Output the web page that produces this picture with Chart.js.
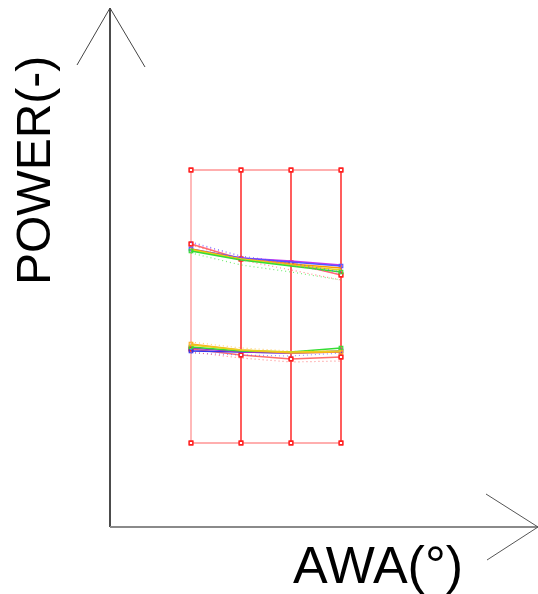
<!DOCTYPE html>
<html>
<head>
<meta charset="utf-8">
<title>POWER vs AWA</title>
<script src="https://cdn.jsdelivr.net/npm/chart.js@4/dist/chart.umd.min.js"></script>
<style>
  html, body { margin: 0; padding: 0; background: #fff; }
  #wrap { width: 538px; height: 594px; }
</style>
</head>
<body>
<div id="wrap"><canvas id="c" width="538" height="594"></canvas></div>
<script>
// Apparent wind angle stations (deg)
const awa = [30, 40, 50, 60];

// Reference mesh (red wireframe)
const meshTop    = [3.57, 3.57, 3.57, 3.57];
const meshUpper  = [2.83, 2.68, 2.64, 2.52];
const meshLower  = [1.78, 1.72, 1.68, 1.70];
const meshBottom = [0.84, 0.84, 0.84, 0.84];

// Upper power family
const upGreen   = [2.76, 2.67, 2.61, 2.55];
const upOrange  = [2.78, 2.68, 2.63, 2.59];
const upYellow  = [2.77, 2.68, 2.62, 2.57];
const upPurple  = [2.77, 2.69, 2.66, 2.62];
const upBlue    = [2.78, 2.69, 2.65, 2.61];
const upBlueDot = [2.85, 2.71, 2.64, 2.55];
const upMagDot  = [2.84, 2.70, 2.62, 2.53];
const upRedDot  = [2.82, 2.67, 2.57, 2.47];
const upGreenDot= [2.74, 2.62, 2.55, 2.47];

// Lower power family
const loOrange  = [1.83, 1.77, 1.74, 1.75];
const loYellow  = [1.82, 1.77, 1.75, 1.76];
const loGreen   = [1.80, 1.76, 1.75, 1.79];
const loBlue    = [1.76, 1.75, 1.74, 1.76];
const loPurple  = [1.79, 1.75, 1.74, 1.75];
const loRedDot  = [1.75, 1.69, 1.65, 1.66];
const loOrangeDot = [1.85, 1.79, 1.76, 1.76];
const loBlueDot = [1.74, 1.72, 1.71, 1.74];

const pts = ys => awa.map((x, i) => ({ x, y: ys[i] }));
const column = i => [meshTop, meshUpper, meshLower, meshBottom].map(r => ({ x: awa[i], y: r[i] }));

function solid(ys, color, ends) {
  return {
    data: pts(ys), borderColor: color, borderWidth: 1.5,
    pointStyle: 'rect', pointRadius: ends ? [2.5, 0, 0, 2.5] : 0,
    pointBorderColor: color, pointBackgroundColor: 'rgba(255,255,255,0)', pointBorderWidth: 1.2
  };
}
function dotted(ys, color) {
  return { data: pts(ys), borderColor: color, borderWidth: 1.2, borderDash: [1, 3], pointRadius: 0 };
}
function mesh(data, color, width) {
  return {
    data, borderColor: color, borderWidth: width,
    pointStyle: 'rect', pointRadius: 2.5, pointBorderColor: '#ff2020',
    pointBackgroundColor: '#fff', pointBorderWidth: 1.3
  };
}

const datasets = [
  dotted(upBlueDot, 'rgba(80,80,255,0.7)'),
  dotted(upMagDot, 'rgba(230,60,230,0.6)'),
  dotted(upRedDot, 'rgba(255,90,90,0.7)'),
  dotted(upGreenDot, 'rgba(60,230,60,0.7)'),
  dotted(loRedDot, 'rgba(255,90,90,0.7)'),
  dotted(loOrangeDot, 'rgba(255,190,60,0.7)'),
  dotted(loBlueDot, 'rgba(80,80,255,0.6)'),
  solid(upGreen, '#33dd33', true),
  solid(upYellow, '#e6d21e', false),
  solid(upOrange, '#ff9900', false),
  solid(upBlue, '#5555ff', true),
  solid(upPurple, '#cc33ee', false),
  solid(loYellow, '#e6d21e', false),
  solid(loOrange, '#ffaa22', true),
  solid(loGreen, '#33dd33', true),
  solid(loPurple, '#9933cc', false),
  solid(loBlue, '#3333ee', true),
  mesh(pts(meshTop), 'rgba(255,60,60,0.55)', 1.3),
  mesh(pts(meshBottom), 'rgba(255,60,60,0.55)', 1.3),
  mesh(pts(meshUpper), 'rgba(255,30,30,0.65)', 1.5),
  mesh(pts(meshLower), 'rgba(255,30,30,0.65)', 1.5),
  mesh(column(0), 'rgba(255,60,60,0.55)', 1.3),
  mesh(column(1), '#ff1a1a', 1.4),
  mesh(column(2), '#ff1a1a', 1.4),
  mesh(column(3), '#ff1a1a', 1.4)
];

// Arrow axes and axis titles
const arrowAxes = {
  id: 'arrowAxes',
  afterDraw(chart) {
    const { ctx, chartArea: a } = chart;
    ctx.save();
    // y axis
    ctx.strokeStyle = '#111';
    ctx.lineWidth = 1.5;
    ctx.beginPath(); ctx.moveTo(a.left, a.bottom); ctx.lineTo(a.left, a.top); ctx.stroke();
    ctx.strokeStyle = '#444'; ctx.lineWidth = 1;
    ctx.beginPath();
    ctx.moveTo(a.left - 33, a.top + 57); ctx.lineTo(a.left, a.top); ctx.lineTo(a.left + 35, a.top + 59);
    ctx.stroke();
    // x axis
    ctx.strokeStyle = '#8a8a8a'; ctx.lineWidth = 2.2;
    ctx.beginPath(); ctx.moveTo(a.left, a.bottom); ctx.lineTo(a.right, a.bottom); ctx.stroke();
    ctx.strokeStyle = '#555'; ctx.lineWidth = 1;
    ctx.beginPath();
    ctx.moveTo(a.right - 52, a.bottom - 33); ctx.lineTo(a.right, a.bottom); ctx.lineTo(a.right - 51, a.bottom + 33);
    ctx.stroke();
    // titles
    ctx.fillStyle = '#000';
    ctx.textAlign = 'left'; ctx.textBaseline = 'alphabetic';
    ctx.font = '52px "Liberation Sans", Arial, sans-serif';
    ctx.fillText('AWA(°)', 293, 583);
    ctx.font = '48px "Liberation Sans", Arial, sans-serif';
    ctx.translate(50, 285);
    ctx.rotate(-Math.PI / 2);
    ctx.fillText('POWER(-)', 0, 0);
    ctx.restore();
  }
};

new Chart(document.getElementById('c'), {
  type: 'scatter',
  data: { datasets: datasets.map(d => Object.assign({ showLine: true, tension: 0, fill: false }, d)) },
  options: {
    responsive: false,
    animation: false,
    layout: { autoPadding: false, padding: { left: 110, top: 8, right: 0, bottom: 67 } },
    plugins: { legend: { display: false }, tooltip: { enabled: false } },
    scales: {
      x: { type: 'linear', min: 13.8, max: 99.4, display: false },
      y: { type: 'linear', min: 0, max: 5.19, display: false }
    }
  },
  plugins: [arrowAxes]
});
</script>
</body>
</html>
